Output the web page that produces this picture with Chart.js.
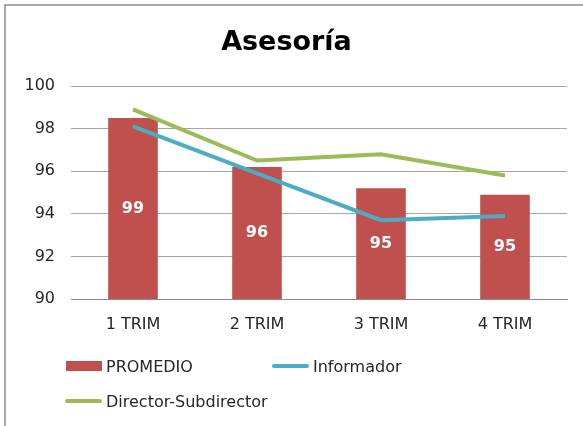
<!DOCTYPE html>
<html>
<head>
<meta charset="utf-8">
<title>Asesoría</title>
<script src="https://cdn.jsdelivr.net/npm/chart.js@4"></script>
<style>
    html, body { margin: 0; padding: 0; background: #fff; }
    #wrap { position: relative; width: 583px; height: 426px; overflow: hidden; }
    #frame {
        position: absolute; left: 4px; top: 4px; width: 700px; height: 600px;
        border-left: 2px solid #a6a6a6; border-top: 2px solid #a6a6a6;
    }
    #chart { position: absolute; left: 0; top: 0; }
    .legend-item {
        position: absolute; display: flex; align-items: center;
        font: 16px "DejaVu Sans", sans-serif; color: #262626; white-space: nowrap;
    }
    .legend-item .mark { display: inline-block; margin-right: 4px; }
</style>
</head>
<body>
<div id="wrap">
    <div id="frame"></div>
    <canvas id="chart" width="583" height="426"></canvas>
    <div id="legend"></div>
</div>
<script>
const categories = ['1 TRIM', '2 TRIM', '3 TRIM', '4 TRIM'];
const promedio = [98.5, 96.2, 95.2, 94.9];
const informador = [98.1, 95.9, 93.7, 93.9];
const directorSubdirector = [98.9, 96.5, 96.8, 95.8];
const yTicks = [90, 92, 94, 96, 98, 100];

const COLORS = {
    promedio: '#c0504d',
    informador: '#4bacc6',
    director: '#9bbb59'
};

const FONT = '"DejaVu Sans", sans-serif';

// white value labels centred inside each bar
const barLabels = {
    id: 'barLabels',
    afterDraw(chart) {
        const ctx = chart.ctx;
        const yScale = chart.scales.y;
        const meta = chart.getDatasetMeta(0);
        const values = chart.data.datasets[0].data;
        const base = yScale.getPixelForValue(yScale.min);
        ctx.save();
        ctx.fillStyle = '#ffffff';
        ctx.font = 'bold 16px ' + FONT;
        ctx.textAlign = 'center';
        ctx.textBaseline = 'middle';
        meta.data.forEach((bar, i) => {
            const top = yScale.getPixelForValue(values[i]);
            ctx.fillText(String(Math.round(values[i])), bar.x, (top + base) / 2);
        });
        ctx.restore();
    }
};

new Chart(document.getElementById('chart'), {
    type: 'bar',
    data: {
        labels: categories,
        datasets: [{
            type: 'bar',
            label: 'PROMEDIO',
            data: promedio,
            backgroundColor: COLORS.promedio,
            barPercentage: 0.4,
            categoryPercentage: 1,
            order: 3
        }, {
            type: 'line',
            label: 'Informador',
            data: informador,
            borderColor: COLORS.informador,
            borderWidth: 4,
            pointRadius: 0,
            tension: 0,
            order: 1
        }, {
            type: 'line',
            label: 'Director-Subdirector',
            data: directorSubdirector,
            borderColor: COLORS.director,
            borderWidth: 4,
            pointRadius: 0,
            tension: 0,
            order: 2
        }]
    },
    options: {
        responsive: false,
        animation: false,
        layout: { padding: { left: 6, right: 16, top: 0, bottom: 77 } },
        plugins: {
            legend: { display: false },
            tooltip: { enabled: false },
            title: {
                display: true,
                text: 'Asesoría',
                color: '#000000',
                font: { family: FONT, size: 27, weight: 'bold', lineHeight: 1.2 },
                padding: { top: 27, bottom: 26.6 }
            }
        },
        scales: {
            y: {
                min: 90,
                max: 100,
                afterBuildTicks: scale => { scale.ticks = yTicks.map(v => ({ value: v })); },
                afterFit: scale => { scale.width = 65; },
                border: { display: false },
                grid: { color: '#a6a6a6', lineWidth: 1, drawTicks: false },
                ticks: {
                    color: '#262626',
                    padding: 16,
                    font: { family: FONT, size: 16 }
                }
            },
            x: {
                afterFit: scale => { scale.height = 50; },
                border: { display: true, color: '#8c8c8c', width: 1 },
                grid: { display: false, drawTicks: false },
                ticks: {
                    color: '#262626',
                    padding: 16,
                    font: { family: FONT, size: 16 }
                }
            }
        }
    },
    plugins: [barLabels]
});

// legend laid out in two columns below the axis
const legendItems = [
    { text: 'PROMEDIO', color: COLORS.promedio, box: true, left: 66, top: 366 },
    { text: 'Informador', color: COLORS.informador, box: false, left: 272, top: 366 },
    { text: 'Director-Subdirector', color: COLORS.director, box: false, left: 65, top: 401 }
];
const legendEl = document.getElementById('legend');
legendItems.forEach(item => {
    const div = document.createElement('div');
    div.className = 'legend-item';
    div.style.left = item.left + 'px';
    div.style.top = (item.top - 10) + 'px';
    div.style.height = '20px';
    const mark = document.createElement('span');
    mark.className = 'mark';
    mark.style.background = item.color;
    mark.style.width = (item.box ? 36 : 37) + 'px';
    mark.style.height = (item.box ? 10 : 4) + 'px';
    mark.style.borderRadius = item.box ? '0' : '2px';
    div.appendChild(mark);
    div.appendChild(document.createTextNode(item.text));
    legendEl.appendChild(div);
});
</script>
</body>
</html>
